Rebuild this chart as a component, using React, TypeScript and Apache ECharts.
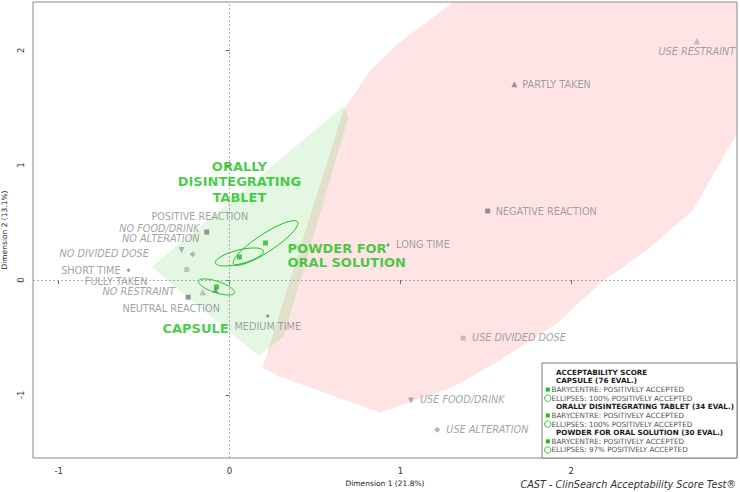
import React, { useEffect, useRef } from "react";
import * as echarts from "echarts";

const GREEN = "#18c018";
const FONT = "DejaVu Sans";

// Modalities (MCA coordinates)
const modalities = [
  "USE RESTRAINT", "PARTLY TAKEN", "NEGATIVE REACTION", "LONG TIME", "MEDIUM TIME",
  "USE DIVIDED DOSE", "USE FOOD/DRINK", "USE ALTERATION", "POSITIVE REACTION",
  "NO FOOD/DRINK", "NO ALTERATION", "NO DIVIDED DOSE", "SHORT TIME", "NO RESTRAINT",
  "FULLY TAKEN", "NEUTRAL REACTION",
];
const dim1 = [2.735, 1.667, 1.511, 0.928, 0.224, 1.367, 1.062, 1.216, -0.133, -0.281, -0.216, -0.25, -0.591, -0.156, -0.082, -0.242];
const dim2 = [2.081, 1.704, 0.6, 0.304, -0.313, -0.507, -1.049, -1.304, 0.417, 0.261, 0.223, 0.09, 0.084, -0.104, -0.087, -0.15];
const variableOf = [
  "restraint", "taken", "reaction", "time", "time", "dose", "food", "alteration", "reaction",
  "food", "alteration", "dose", "time", "restraint", "taken", "reaction",
];

// Formulations: barycentres
const formulations = ["CAPSULE", "ORALLY\nDISINTEGRATING\nTABLET", "POWDER FOR\nORAL SOLUTION"];
const baryX = [-0.076, 0.058, 0.211];
const baryY = [-0.061, 0.2, 0.322];
// Confidence ellipses: semi-axis vectors in data units
const ellMajX = [0.105, 0.14, 0.187];
const ellMajY = [-0.052, 0.052, 0.183];
const ellMinX = [0.011, -0.01, -0.029];
const ellMinY = [0.047, 0.059, 0.065];

// Convex hulls
const redHullX = [0.193, 0.667, 0.825, 0.982, 1.31, 2.97, 2.97, 2.713, 2.444, 2.17, 1.918, 1.585, 1.31, 0.883, 0.298];
const redHullY = [-0.765, 1.478, 1.826, 2.052, 2.42, 2.42, 1.278, 0.609, 0.261, -0.026, -0.374, -0.696, -0.93, -1.157, -0.843];
const greenHullX = [-0.456, 0.667, 0.696, 0.316, 0.17];
const greenHullY = [0.113, 1.513, 1.417, -0.496, -0.661];

const xTicks = [-1, 0, 1, 2];
const yTicks = [-1, 0, 1, 2];

const legendTitle = "ACCEPTABILITY SCORE";
const legendGroups = ["CAPSULE (76 EVAL.)", "ORALLY DISINTEGRATING TABLET (34 EVAL.)", "POWDER FOR ORAL SOLUTION (30 EVAL.)"];
const legendEllipsePct = ["100%", "100%", "97%"];

// ---- styles (not data) ----
const variableStyle: Record<string, any> = {
  reaction: { symbol: "rect", size: 5, color: "#7c7c7c", rotate: 0, italic: false },
  time: { symbol: "diamond", size: 4, color: "#7c7c7c", rotate: 0, italic: false },
  taken: { symbol: "triangle", size: 6, color: "#7c7c7c", rotate: 0, italic: false },
  restraint: { symbol: "triangle", size: 7, color: "#b8b8b8", rotate: 0, italic: true },
  dose: { symbol: "rect", size: 5, color: "#b4b4b4", rotate: 0, italic: true },
  food: { symbol: "triangle", size: 6, color: "#9c9c9c", rotate: 180, italic: true },
  alteration: { symbol: "diamond", size: 6, color: "#a4a4a4", rotate: 0, italic: true },
};
const labelPlacement: Record<string, [number, number, string]> = {
  "USE RESTRAINT": [0, 11, "center"],
  "PARTLY TAKEN": [8, 0, "left"],
  "NEGATIVE REACTION": [8, 0, "left"],
  "LONG TIME": [8, -1, "left"],
  "MEDIUM TIME": [0, 11, "center"],
  "USE DIVIDED DOSE": [9, -1, "left"],
  "USE FOOD/DRINK": [9, -1, "left"],
  "USE ALTERATION": [9, 0, "left"],
  "POSITIVE REACTION": [-7, -16, "center"],
  "NO FOOD/DRINK": [18, -21.5, "right"],
  "NO ALTERATION": [7, -15.5, "right"],
  "NO DIVIDED DOSE": [-38, -16, "right"],
  "SHORT TIME": [-8, 0, "right"],
  "NO RESTRAINT": [-28, 0, "right"],
  "FULLY TAKEN": [-68, -8, "right"],
  "NEUTRAL REACTION": [-17, 11, "center"],
};
const baryLabel: [number, number, string, number][] = [
  [-21, 42, "center", 15],
  [0, -75, "center", 15.3],
  [22, 12.5, "left", 14.5],
];

function hull(xs: number[], ys: number[], fill: string, z: number) {
  return {
    type: "custom",
    silent: true,
    z,
    data: [[0, 0]],
    renderItem: (_p: any, api: any) => ({
      type: "polygon",
      shape: { points: xs.map((x, i) => api.coord([x, ys[i]])) },
      style: { fill, stroke: "none" },
    }),
  };
}

function buildOption() {
  const pointData = modalities.map((name, i) => {
    const st = variableStyle[variableOf[i]];
    const lp = labelPlacement[name];
    return {
      name,
      value: [dim1[i], dim2[i]],
      symbol: st.symbol,
      symbolSize: st.size,
      symbolRotate: st.rotate,
      itemStyle: { color: st.color },
      label: {
        show: true,
        formatter: "{b}",
        position: "inside",
        offset: [lp[0], lp[1]],
        align: lp[2],
        verticalAlign: "middle",
        color: "#8a8a8a",
        fontFamily: FONT,
        fontSize: 9.7,
        fontStyle: st.italic ? "italic" : "normal",
      },
    };
  });

  const baryData = formulations.map((name, i) => ({
    name,
    value: [baryX[i], baryY[i]],
    label: {
      show: true,
      formatter: name,
      position: "inside",
      offset: [baryLabel[i][0], baryLabel[i][1]],
      align: baryLabel[i][2],
      verticalAlign: "middle",
      lineHeight: baryLabel[i][3],
      color: GREEN,
      fontFamily: FONT,
      fontWeight: "bold",
      fontSize: 13,
    },
  }));

  const ellipseSeries = {
    type: "custom",
    silent: true,
    z: 4,
    data: baryX.map((x, i) => [x, baryY[i]]),
    renderItem: (params: any, api: any) => {
      const i = params.dataIndex;
      const pts: number[][] = [];
      for (let k = 0; k < 72; k++) {
        const t = (k / 72) * Math.PI * 2;
        const x = baryX[i] + ellMajX[i] * Math.cos(t) + ellMinX[i] * Math.sin(t);
        const y = baryY[i] + ellMajY[i] * Math.cos(t) + ellMinY[i] * Math.sin(t);
        pts.push(api.coord([x, y]));
      }
      return {
        type: "polygon",
        shape: { points: pts },
        style: { fill: "none", stroke: GREEN, lineWidth: 1 },
      };
    },
  };

  // Legend graphic
  const LX = 542, LY = 363, LW = 195, LH = 95;
  const lineY = (k: number) => 372.3 + k * 8.63;
  const g: any[] = [
    {
      type: "rect",
      shape: { x: LX, y: LY, width: LW, height: LH },
      style: { fill: "#fff", stroke: "#7a7a7a", lineWidth: 1 },
      z: 10,
    },
    {
      type: "text",
      x: 556, y: lineY(0), z: 11,
      style: { text: legendTitle, font: `bold 7.2px "${FONT}"`, fill: "#1a1a1a", verticalAlign: "middle" },
    },
  ];
  legendGroups.forEach((grp, i) => {
    const base = 1 + i * 3;
    g.push({
      type: "text", x: 556, y: lineY(base), z: 11,
      style: { text: grp, font: `bold 7.2px "${FONT}"`, fill: "#1a1a1a", verticalAlign: "middle" },
    });
    g.push({
      type: "rect", z: 11,
      shape: { x: 545.8, y: lineY(base + 1) - 2, width: 4, height: 4 },
      style: { fill: GREEN },
    });
    g.push({
      type: "text", x: 551.5, y: lineY(base + 1), z: 11,
      style: { text: "BARYCENTRE: POSITIVELY ACCEPTED", font: `7.2px "${FONT}"`, fill: "#555", verticalAlign: "middle" },
    });
    g.push({
      type: "circle", z: 11,
      shape: { cx: 547.7, cy: lineY(base + 2), r: 3.2 },
      style: { fill: "none", stroke: GREEN, lineWidth: 0.9 },
    });
    g.push({
      type: "text", x: 551.5, y: lineY(base + 2), z: 11,
      style: { text: `ELLIPSES: ${legendEllipsePct[i]} POSITIVELY ACCEPTED`, font: `7.2px "${FONT}"`, fill: "#555", verticalAlign: "middle" },
    });
  });
  g.push({
    type: "text", x: 736, y: 484, z: 11,
    style: {
      text: "CAST - ClinSearch Acceptability Score Test®",
      font: `italic 9.7px "${FONT}"`, fill: "#333", align: "right", verticalAlign: "middle",
    },
  });

  const tickLabel = { color: "#333", fontFamily: FONT, fontSize: 8.5 };

  return {
    animation: false,
    backgroundColor: "#fff",
    grid: {
      left: 33, right: 3, top: 2, bottom: 34,
      show: true, borderColor: "#8a8a8a", borderWidth: 1, backgroundColor: "transparent",
      containLabel: false, outerBoundsMode: "none",
    },
    xAxis: {
      type: "value", min: -1.15, max: 2.97,
      name: "Dimension 1 (21.8%)", nameLocation: "middle", nameGap: 21,
      nameTextStyle: { color: "#222", fontFamily: FONT, fontSize: 7.5 },
      axisLine: { show: false },
      splitLine: { show: false },
      axisTick: { show: true, customValues: xTicks, length: 4, lineStyle: { color: "#666" } },
      axisLabel: { ...tickLabel, customValues: xTicks, margin: 8, formatter: (v: number) => String(v) },
    },
    yAxis: {
      type: "value", min: -1.55, max: 2.42,
      name: "Dimension 2 (13.1%)", nameLocation: "middle", nameGap: 19,
      nameTextStyle: { color: "#222", fontFamily: FONT, fontSize: 7.5 },
      axisLine: { show: false },
      splitLine: { show: false },
      axisTick: { show: true, customValues: yTicks, length: 4, lineStyle: { color: "#666" } },
      axisLabel: { ...tickLabel, customValues: yTicks, margin: 8, rotate: 90, formatter: (v: number) => String(v) },
    },
    graphic: g,
    series: [
      hull(redHullX, redHullY, "rgba(250, 90, 90, 0.16)", 1),
      hull(greenHullX, greenHullY, "rgba(60, 200, 60, 0.14)", 1),
      {
        type: "scatter",
        z: 3,
        silent: true,
        data: [],
        markLine: {
          silent: true,
          symbol: "none",
          label: { show: false },
          lineStyle: { type: [2, 2], color: "#9a9a9a", width: 0.8 },
          data: [{ xAxis: 0 }, { yAxis: 0 }],
        },
      },
      ellipseSeries,
      { type: "scatter", z: 5, silent: true, data: pointData },
      {
        type: "scatter", z: 6, silent: true,
        symbol: "rect", symbolSize: 5,
        itemStyle: { color: GREEN },
        data: baryData,
      },
    ],
  };
}

export default function App() {
  const ref = useRef<HTMLDivElement>(null);
  useEffect(() => {
    const chart = echarts.init(ref.current!, null, { renderer: "svg" });
    chart.setOption(buildOption() as any);
    return () => chart.dispose();
  }, []);
  return <div ref={ref} style={{ position: "fixed", left: 0, top: 0, width: 740, height: 492 }} />;
}
